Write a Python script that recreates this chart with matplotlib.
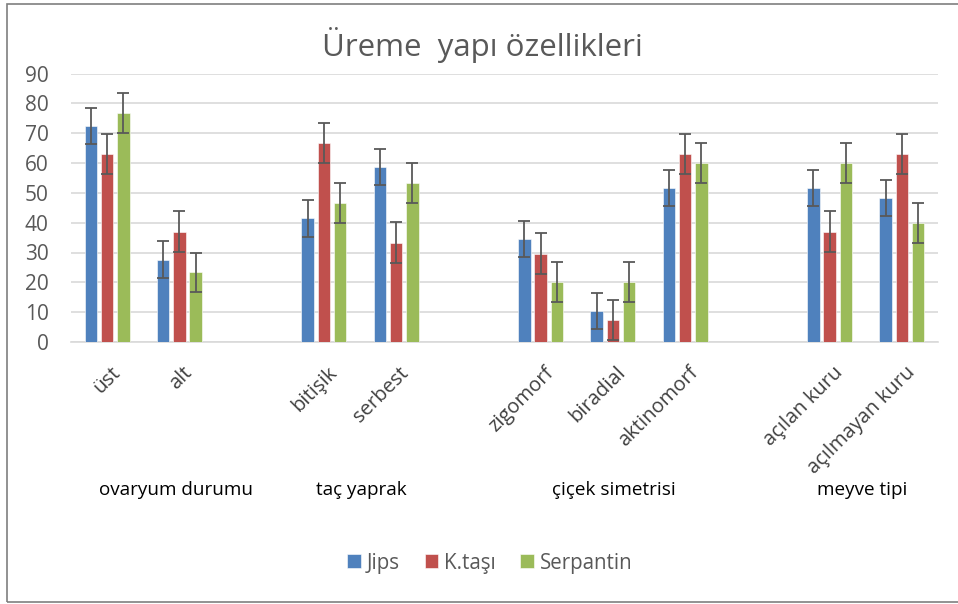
import numpy as np
import matplotlib
matplotlib.use("Agg")
import matplotlib.pyplot as plt
import matplotlib.transforms as mtransforms
from matplotlib.patches import Rectangle

plt.rcParams['font.family'] = ['Open Sans', 'DejaVu Sans']

# categories (blank slots separate the groups)
categories = ["üst", "alt", "", "bitişik", "serbest", "",
              "zigomorf", "biradial", "aktinomorf", "",
              "açılan kuru", "açılmayan kuru"]
groups = ["ovaryum durumu", "taç yaprak", "çiçek simetrisi", "meyve tipi"]
group_pos = [0.95, 3.52, 7.02, 10.45]

series = ["Jips", "K.taşı", "Serpantin"]
jips = [72.4, 27.6, np.nan, 41.4, 58.6, np.nan, 34.5, 10.3, 51.7, np.nan, 51.7, 48.3]
ktasi = [63.0, 37.0, np.nan, 66.7, 33.3, np.nan, 29.6, 7.4, 63.0, np.nan, 37.0, 63.0]
serpantin = [76.7, 23.3, np.nan, 46.7, 53.3, np.nan, 20.0, 20.0, 60.0, np.nan, 60.0, 40.0]
errors = [6.1, 6.8, 6.7]

colors = ["#4F81BD", "#C0504D", "#9BBB59"]

fig = plt.figure(figsize=(9.58, 6.04), dpi=100)
ax = fig.add_axes([71 / 958, (604 - 342) / 604, (938 - 71) / 958, (342 - 73.5) / 604])

x = np.arange(len(categories))
offs = [-0.226, 0.0, 0.226]
width = 0.174
for vals, err, off, col, name in zip([jips, ktasi, serpantin], errors, offs, colors, series):
    v = np.array(vals, dtype=float)
    ax.bar(x + off, v, width, color=col, label=name, edgecolor="white", linewidth=0.4, zorder=3)
    m = ~np.isnan(v)
    ax.errorbar(x[m] + off, v[m], yerr=err, fmt="none", ecolor="#595959",
                elinewidth=1.3, capsize=4.3, capthick=1.3, zorder=4)

ax.set_xlim(-0.5, len(categories) - 0.5)
ax.set_ylim(0, 90)
ax.set_yticks(range(0, 91, 10))
ax.yaxis.grid(True, color="#D9D9D9", linewidth=1.2, zorder=0)
ax.set_axisbelow(True)
for s in ["top", "right", "left"]:
    ax.spines[s].set_visible(False)
ax.spines["bottom"].set_color("#D9D9D9")
ax.spines["bottom"].set_linewidth(1.2)
ax.tick_params(axis="y", length=0, pad=16, labelsize=15, labelcolor="#595959")
ax.tick_params(axis="x", length=0, pad=15)

ax.set_xticks(x)
ax.set_xticklabels(categories, rotation=45, ha="right", rotation_mode="anchor",
                   fontsize=14.5, color="#404040")
shift = mtransforms.ScaledTranslation(3 / 100, 0, fig.dpi_scale_trans)
for lab in ax.get_xticklabels():
    lab.set_transform(lab.get_transform() + shift)

trans = mtransforms.blended_transform_factory(ax.transData, fig.transFigure)
for g, p in zip(groups, group_pos):
    ax.text(p, (604 - 490) / 604, g, transform=trans, ha="center", va="center",
            fontsize=13.6, color="black")

fig.text(482 / 958, (604 - 45) / 604, "Üreme  yapı özellikleri", ha="center", va="center",
         fontsize=22.5, color="#595959")

leg = fig.legend(loc="center", bbox_to_anchor=(490 / 958, (604 - 563) / 604), ncol=3,
                 frameon=False, fontsize=14.8, handlelength=0.65, handleheight=0.65,
                 handletextpad=0.3, columnspacing=1.2)
for t in leg.get_texts():
    t.set_color("#595959")

fig.patches.append(Rectangle((7 / 958, 2 / 604), 1.0, 598 / 604, transform=fig.transFigure,
                             fill=False, edgecolor="#7F7F7F", linewidth=1.2))

fig.savefig("out.png", dpi=100)
